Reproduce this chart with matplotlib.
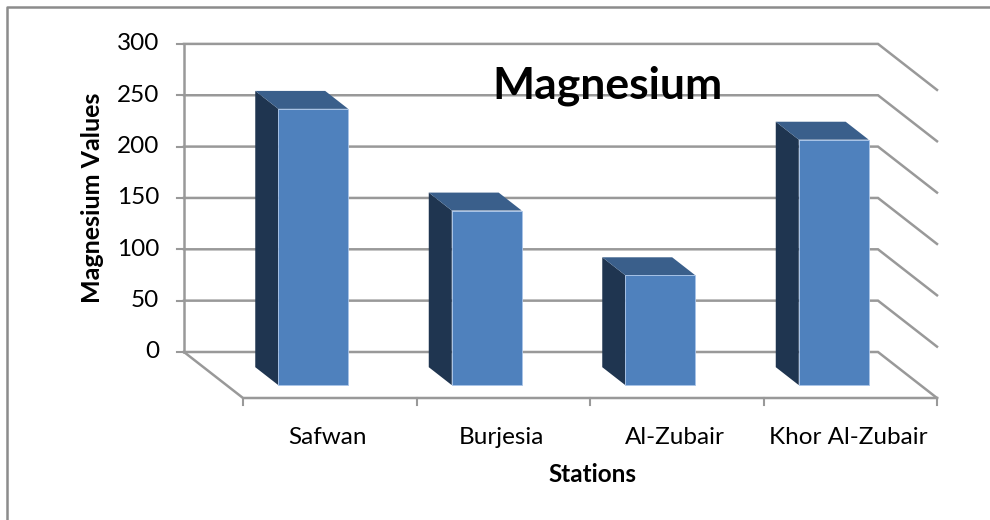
import matplotlib.pyplot as plt
from matplotlib.patches import Polygon

# Data
stations = ['Safwan', 'Burjesia', 'Al-Zubair', 'Khor Al-Zubair']
magnesium = [269, 170, 107, 239]
y_ticks = [0, 50, 100, 150, 200, 250, 300]

plt.rcParams['font.family'] = ['Lato', 'DejaVu Sans']

# pseudo-3D geometry (category units on x, value units on y)
PX_CAT = 173.5          # pixels per category
PX_VAL = 1.027          # pixels per value unit
DX = 59 / PX_CAT        # depth shift of the back wall
DY = 46 / PX_VAL
d_front, d_back = 0.28, 0.67   # bar depth (0 = front floor, 1 = back wall)
bar_w = 0.403

front_col = '#4F81BD'
side_col = '#1F3550'
top_col = '#3A5F8B'
grid_col = '#999999'

fig = plt.figure(figsize=(9.9, 5.2), dpi=100)
ax = fig.add_axes([0, 0, 1, 1])
ax.set_xlim(-243 / PX_CAT, (990 - 243) / PX_CAT)
ax.set_ylim(-(520 - 398) / PX_VAL, 398 / PX_VAL)
ax.axis('off')

n = len(stations)

# back wall gridlines + right wall lines
for t in y_ticks:
    ax.plot([-DX, n - DX, n], [t + DY, t + DY, t], color=grid_col, lw=1.8,
            solid_joinstyle='miter', zorder=1)
    ax.plot([-DX - 7 / PX_CAT, -DX], [t + DY, t + DY], color=grid_col, lw=1.5, zorder=1)
    ax.annotate(str(t), xy=(-DX, t + DY), xytext=(-25, 0), textcoords='offset pixels',
                ha='right', va='center', fontsize=17.5, color='black')

# left wall and floor
ax.plot([-DX, -DX], [DY, y_ticks[-1] + DY], color=grid_col, lw=1.8, zorder=1)
ax.plot([-DX, 0, n], [DY, 0, 0], color=grid_col, lw=1.8, zorder=1)
for i in range(n + 1):
    ax.plot([i, i], [0, -7 / PX_VAL], color=grid_col, lw=1.5, zorder=1)

# bars
xc = [i + 0.5 - d_front * DX for i in range(n)]
ax.bar(xc, magnesium, width=bar_w, bottom=d_front * DY, color=front_col,
       edgecolor='#A9C4E8', linewidth=0.6, zorder=3)
sx = (d_back - d_front) * DX
sy = (d_back - d_front) * DY
for x, v in zip(xc, magnesium):
    xl, xr = x - bar_w / 2, x + bar_w / 2
    yb, yt = d_front * DY, d_front * DY + v
    side = Polygon([(xl, yb), (xl, yt), (xl - sx, yt + sy), (xl - sx, yb + sy)],
                   closed=True, facecolor=side_col, edgecolor='none', zorder=2)
    top = Polygon([(xl, yt), (xr, yt), (xr - sx, yt + sy), (xl - sx, yt + sy)],
                  closed=True, facecolor=top_col, edgecolor='none', zorder=2)
    ax.add_patch(side)
    ax.add_patch(top)

# category labels
for i, s in enumerate(stations):
    ax.annotate(s, xy=(i + 0.5, 0), xytext=(-2, -39), textcoords='offset pixels',
                ha='center', va='center', fontsize=17.5)
ax.annotate('Stations', xy=(n / 2, 0), xytext=(2, -76), textcoords='offset pixels',
            ha='center', va='center', fontsize=17.5, fontweight='bold')

fig.text(93 / 990, 1 - 198 / 520, 'Magnesium Values', rotation=90, ha='center',
         va='center', fontsize=18, fontweight='bold')
fig.text(607 / 990, 1 - 98 / 520, 'Magnesium', ha='center', va='baseline',
         fontsize=32, fontweight='bold')

# chart border (top and left visible)
fig.add_artist(plt.Line2D([7 / 990, 7 / 990, 1], [0, 1 - 7 / 520, 1 - 7 / 520],
                          transform=fig.transFigure, color='#8c8c8c', lw=1.8))

fig.savefig('out.png', dpi=100)
